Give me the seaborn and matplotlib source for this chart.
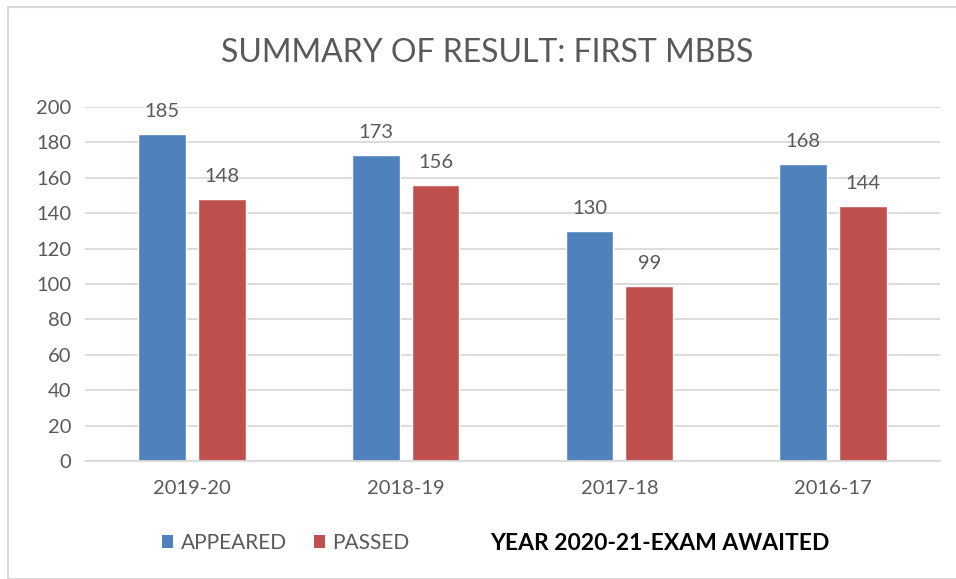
import matplotlib
matplotlib.use("Agg")
import matplotlib.pyplot as plt
import seaborn as sns
import pandas as pd
from matplotlib.patches import Patch, Rectangle

years = ["2019-20", "2018-19", "2017-18", "2016-17"]
appeared = [185, 173, 130, 168]
passed = [148, 156, 99, 144]
series_names = ["APPEARED", "PASSED"]
colors = ["#4F81BD", "#C0504D"]
title = "SUMMARY OF RESULT: FIRST MBBS"
note = "YEAR 2020-21-EXAM AWAITED"

df = pd.DataFrame({
    "year": years * 2,
    "value": appeared + passed,
    "series": [series_names[0]] * len(years) + [series_names[1]] * len(years),
})

sns.set_theme(style="white")
plt.rcParams["font.family"] = ["Lato", "DejaVu Sans"]
gray = "#595959"

fig = plt.figure(figsize=(9.56, 5.79), dpi=100)
ax = fig.add_axes([85 / 956, 1 - 461 / 579, (940 - 85) / 956, (461 - 107) / 579])

sns.barplot(data=df, x="year", y="value", hue="series", palette=colors,
            width=0.56, gap=0.2, ax=ax, legend=False, saturation=1)

ax.set_ylim(0, 200)
ax.set_yticks(range(0, 201, 20))
ax.set_xlim(-0.5, len(years) - 0.5)
ax.yaxis.grid(True, color="#D9D9D9", linewidth=1.3)
ax.set_axisbelow(True)
for s in ["top", "right", "left"]:
    ax.spines[s].set_visible(False)
ax.spines["bottom"].set_color("#D9D9D9")
ax.spines["bottom"].set_linewidth(1.3)
ax.tick_params(axis="both", length=0, labelsize=14.5, colors=gray, pad=10)
ax.tick_params(axis="x", pad=14)
ax.set_xlabel("")
ax.set_ylabel("")

for cont in ax.containers:
    ax.bar_label(cont, padding=10, fontsize=14.5, color=gray)

fig.text(487 / 956, 1 - 53 / 579, title, ha="center", va="center", fontsize=23,
         color=gray, fontweight="normal")

handles = [Patch(facecolor=c, edgecolor="none") for c in colors]
fig.legend(handles, series_names, loc="center left",
           bbox_to_anchor=(143 / 956, 1 - 543 / 579), ncol=2, frameon=False,
           fontsize=15, labelcolor=gray, handlelength=0.55, handleheight=0.6,
           handletextpad=0.35, columnspacing=1.3)

fig.text(490 / 956, 1 - 543 / 579, note, ha="left", va="center", fontsize=16.5,
         color="black", fontweight="bold")

fig.patches.append(Rectangle((8 / 956, 0), 1.0, 1 - 7 / 579, transform=fig.transFigure,
                             fill=False, edgecolor="#D9D9D9", linewidth=1.5))

fig.savefig("out.png", dpi=100)
